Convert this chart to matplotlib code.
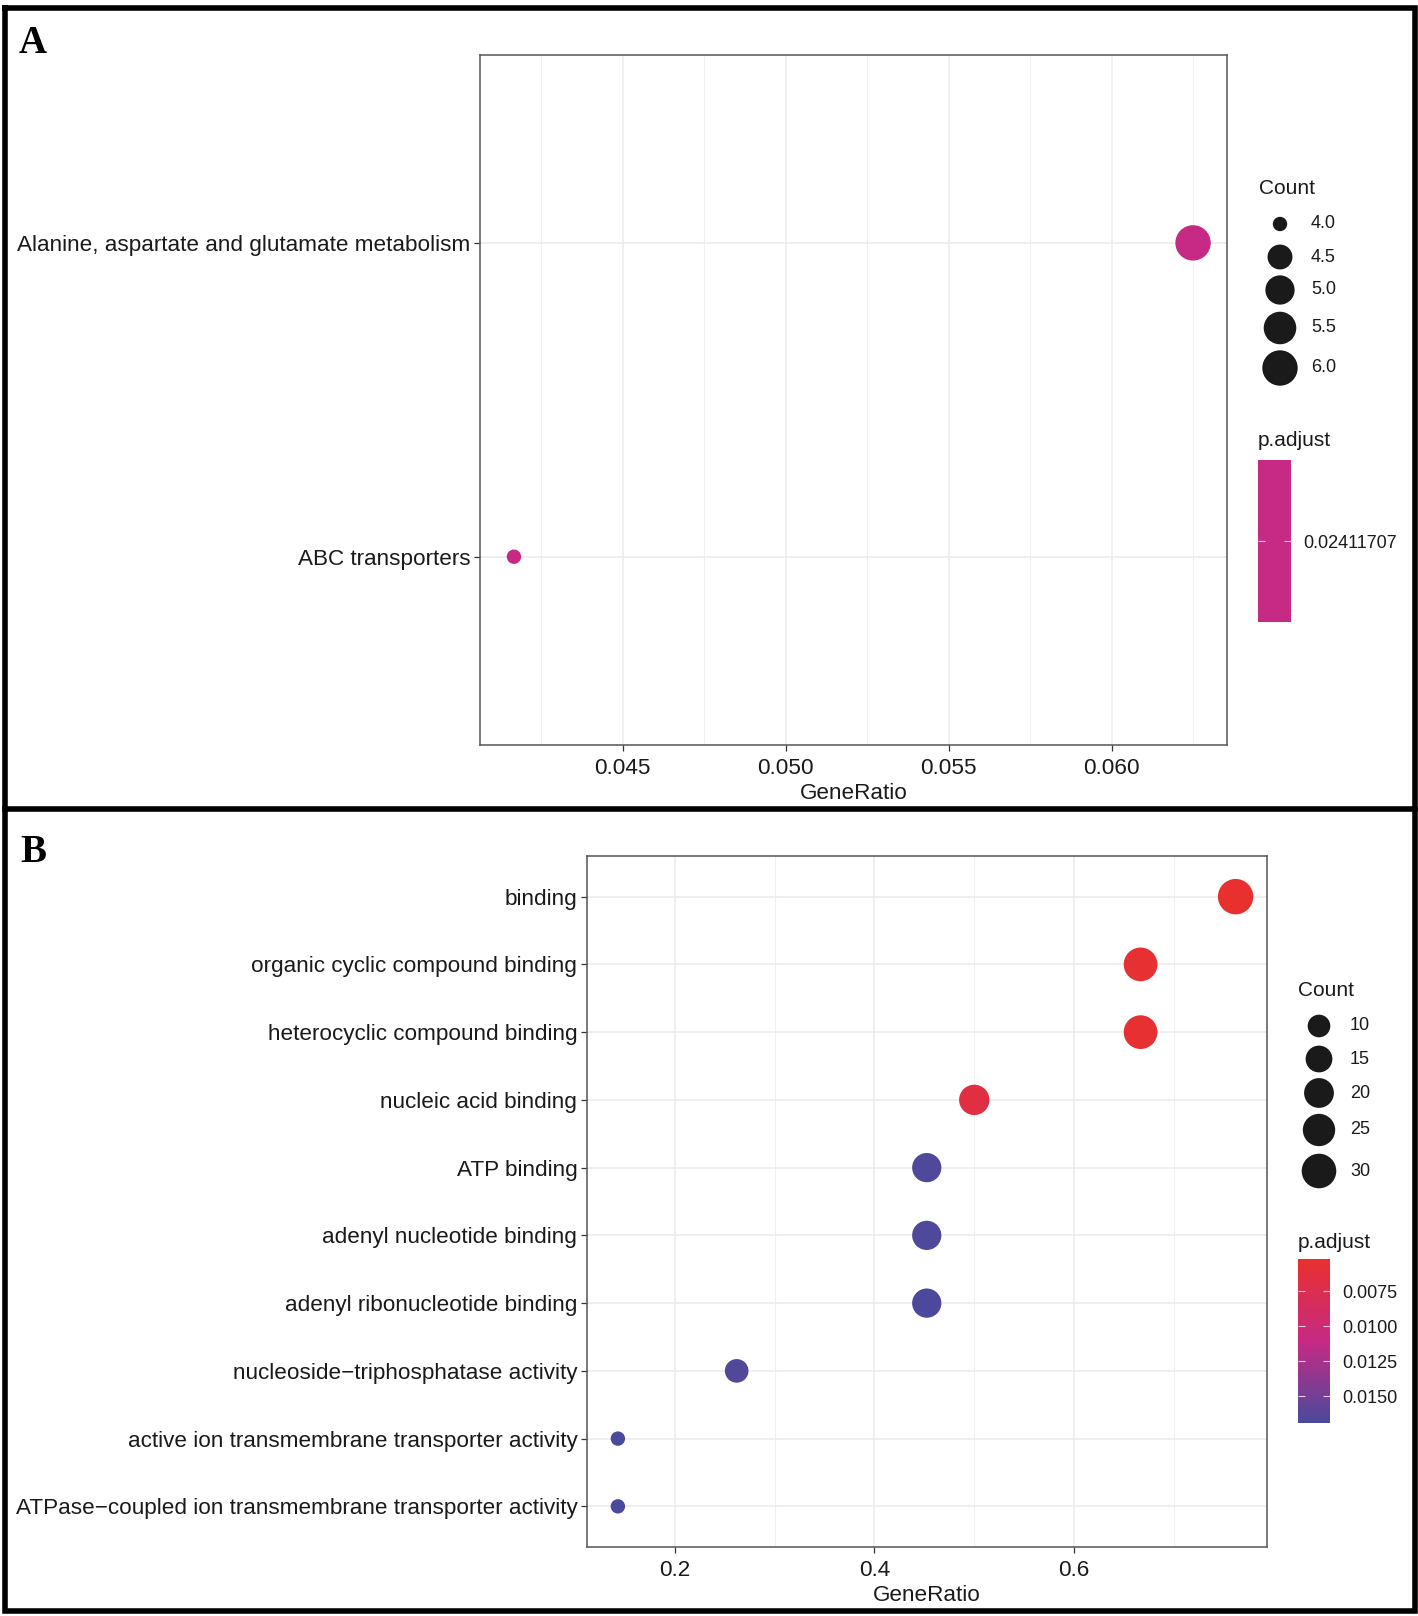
import matplotlib
matplotlib.use('Agg')
import matplotlib.pyplot as plt
import numpy as np
from matplotlib.colors import LinearSegmentedColormap, ListedColormap, Normalize
from matplotlib.cm import ScalarMappable
from matplotlib.ticker import MultipleLocator

plt.rcParams['font.family'] = ['Liberation Sans', 'DejaVu Sans']

# ---------------- data ----------------
a_terms = ["Alanine, aspartate and glutamate metabolism", "ABC transporters"]
a_count = [6, 4]
a_total = 96
a_ratio = [c / a_total for c in a_count]
a_padj = [0.02411707, 0.02411707]
a_count_breaks = [4.0, 4.5, 5.0, 5.5, 6.0]
a_xticks = [0.045, 0.050, 0.055, 0.060]
a_xtick_labels = ["0.045", "0.050", "0.055", "0.060"]

b_terms = ["binding",
           "organic cyclic compound binding",
           "heterocyclic compound binding",
           "nucleic acid binding",
           "ATP binding",
           "adenyl nucleotide binding",
           "adenyl ribonucleotide binding",
           "nucleoside\u2212triphosphatase activity",
           "active ion transmembrane transporter activity",
           "ATPase\u2212coupled ion transmembrane transporter activity"]
b_count = [32, 28, 28, 21, 19, 19, 19, 11, 6, 6]
b_total = 42
b_ratio = [c / b_total for c in b_count]
b_padj = [0.00522, 0.00545, 0.00548, 0.0066, 0.0167, 0.0167, 0.0168, 0.0165, 0.0169, 0.0169]
b_count_breaks = [10, 15, 20, 25, 30]
b_padj_ticks = [0.0075, 0.0100, 0.0125, 0.0150]
b_padj_labels = ["0.0075", "0.0100", "0.0125", "0.0150"]
b_xticks = [0.2, 0.4, 0.6]
b_xtick_labels = ["0.2", "0.4", "0.6"]

# ---------------- style ----------------
W, H, DPI = 1418, 1616, 100
RED, MID, BLUE = '#E8302E', '#C62A84', '#4A4A9C'
cmap = LinearSegmentedColormap.from_list('rb', [(0, RED), (0.5, MID), (1, BLUE)])
TXT = '#1A1A1A'

fig = plt.figure(figsize=(W / DPI, H / DPI), dpi=DPI)
fig.patch.set_facecolor('white')


def rect(l, t, r, b):
    return [l / W, 1 - b / H, (r - l) / W, (b - t) / H]


def size_pts2(c, lo, hi):
    c = np.asarray(c, dtype=float)
    size = 3 + 5 * np.sqrt((c - lo) / (hi - lo))
    d_px = 4.2 * size + 1.8
    return (d_px * 72 / DPI) ** 2


def style_axes(ax, minor_step):
    ax.set_axisbelow(True)
    ax.xaxis.set_minor_locator(MultipleLocator(minor_step))
    ax.grid(which='major', color='#EBEBEB', lw=1.1)
    ax.grid(which='minor', axis='x', color='#EFEFEF', lw=0.8)
    ax.tick_params(which='major', length=4.5, width=0.9, color='#333333',
                   labelsize=16.2, labelcolor=TXT, pad=2.5)
    ax.tick_params(axis='x', which='major', pad=5)
    ax.tick_params(which='minor', length=0)
    for sp in ax.spines.values():
        sp.set_color('#555555')
        sp.set_linewidth(1.1)


def expand(vals, frac=0.05):
    lo, hi = min(vals), max(vals)
    p = (hi - lo) * frac
    return lo - p, hi + p


# ---------------- panel A ----------------
axA = fig.add_axes(rect(480, 54.6, 1227, 745))
nA = len(a_terms)
yA = np.arange(nA)[::-1] + 1
p0 = a_padj[0]
cmapA = ListedColormap([cmap(0.5)])
normA = Normalize(vmin=p0 * 0.9, vmax=p0 * 1.1)
axA.scatter(a_ratio, yA, s=size_pts2(a_count, min(a_count), max(a_count)),
            c=a_padj, cmap=cmapA, norm=normA, linewidths=0, zorder=3)
axA.set_xlim(*expand(a_ratio))
axA.set_ylim(0.4, nA + 0.6)
axA.set_yticks(yA)
axA.set_yticklabels(a_terms)
axA.set_xticks(a_xticks)
axA.set_xticklabels(a_xtick_labels)
style_axes(axA, 0.0025)
axA.set_xlabel('GeneRatio', fontsize=16.2, color=TXT, labelpad=3)

caxA = fig.add_axes(rect(1258, 460, 1291, 622))
cbA = fig.colorbar(ScalarMappable(norm=normA, cmap=cmapA), cax=caxA)
cbA.outline.set_visible(False)
cbA.set_ticks([p0])
cbA.set_ticklabels(['0.02411707'])
caxA.tick_params(direction='in', length=4.7, width=0.8, color='#F0C8DC',
                 left=True, right=True, labelleft=False, labelright=True,
                 labelsize=13, labelcolor=TXT, pad=8.6)

# ---------------- panel B ----------------
axB = fig.add_axes(rect(587, 856, 1266.5, 1547))
nB = len(b_terms)
yB = np.arange(nB)[::-1] + 1
normB = Normalize(vmin=min(b_padj), vmax=max(b_padj))
axB.scatter(b_ratio, yB, s=size_pts2(b_count, min(b_count), max(b_count)),
            c=b_padj, cmap=cmap, norm=normB, linewidths=0, zorder=3)
axB.set_xlim(*expand(b_ratio))
axB.set_ylim(0.4, nB + 0.6)
axB.set_yticks(yB)
axB.set_yticklabels(b_terms)
axB.set_xticks(b_xticks)
axB.set_xticklabels(b_xtick_labels)
style_axes(axB, 0.1)
axB.set_xlabel('GeneRatio', fontsize=16.2, color=TXT, labelpad=3)

caxB = fig.add_axes(rect(1298, 1259, 1330, 1423))
cbB = fig.colorbar(ScalarMappable(norm=normB, cmap=cmap), cax=caxB)
cbB.outline.set_visible(False)
caxB.invert_yaxis()
cbB.set_ticks(b_padj_ticks)
cbB.set_ticklabels(b_padj_labels)
caxB.tick_params(direction='in', length=4.7, width=0.8, color='#F0C8DC',
                 left=True, right=True, labelleft=False, labelright=True,
                 labelsize=13, labelcolor=TXT, pad=8.6)

# ---------------- overlay: frames, letters, size legends ----------------
ov = fig.add_axes([0, 0, 1, 1])
ov.set_xlim(0, W)
ov.set_ylim(H, 0)
ov.axis('off')
ov.patch.set_alpha(0)

LW = 4.0
ov.plot([5, 1414.5, 1414.5, 5, 5], [8, 8, 1611, 1611, 8], color='black',
        lw=LW, solid_joinstyle='miter', solid_capstyle='projecting', clip_on=False)
ov.plot([5, 1414.5], [809, 809], color='black', lw=LW, clip_on=False)

ov.text(19, 53, 'A', family=['Liberation Serif', 'DejaVu Serif'], fontweight='bold',
        fontsize=28, va='baseline', ha='left', color='black')
ov.text(20, 862, 'B', family=['Liberation Serif', 'DejaVu Serif'], fontweight='bold',
        fontsize=28, va='baseline', ha='left', color='black')

# legend A
ov.text(1259, 189, 'Count', fontsize=15, va='center', ha='left', color=TXT)
legA_y = [224, 257, 290, 328, 368]
ov.scatter([1280] * len(a_count_breaks), legA_y,
           s=size_pts2(a_count_breaks, min(a_count), max(a_count)),
           color=TXT, linewidths=0)
for yy, v in zip(legA_y, a_count_breaks):
    ov.text(1311, yy, f'{v:.1f}', fontsize=13, va='center', ha='left', color=TXT)
ov.text(1258, 441, 'p.adjust', fontsize=15, va='center', ha='left', color=TXT)

# legend B
ov.text(1298, 991, 'Count', fontsize=15, va='center', ha='left', color=TXT)
legB_y = [1026, 1059, 1093, 1130, 1171]
ov.scatter([1319] * len(b_count_breaks), legB_y,
           s=size_pts2(b_count_breaks, min(b_count), max(b_count)),
           color=TXT, linewidths=0)
for yy, v in zip(legB_y, b_count_breaks):
    ov.text(1350, yy, f'{v}', fontsize=13, va='center', ha='left', color=TXT)
ov.text(1298, 1243, 'p.adjust', fontsize=15, va='center', ha='left', color=TXT)

fig.savefig('out.png', dpi=DPI)
